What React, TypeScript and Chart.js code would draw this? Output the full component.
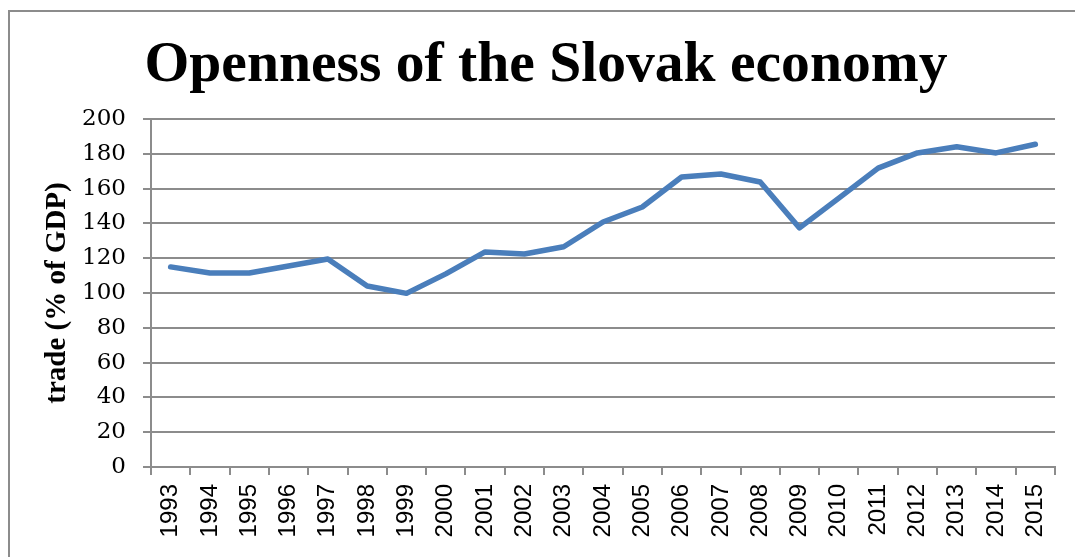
import React, { useEffect, useRef } from "react";
import { Chart, registerables } from "chart.js";

Chart.register(...registerables);

const titleText = "Openness of the Slovak economy";
const yAxisTitle = "trade (% of GDP)";
const years = ["1993","1994","1995","1996","1997","1998","1999","2000","2001","2002","2003","2004","2005","2006","2007","2008","2009","2010","2011","2012","2013","2014","2015"];
const tradeValues = [115, 111.5, 111.5, 115.5, 119.5, 104, 99.8, 111, 123.6, 122.4, 126.6, 140.8, 149.4, 166.7, 168.4, 163.8, 137.4, 154.5, 171.8, 180.5, 184, 180.5, 185.5];
const yMin = 0;
const yMax = 200;
const yStep = 20;

const titlePlugin = {
  id: "customTitle",
  afterDraw(chart: any) {
    const ctx = chart.ctx;
    ctx.save();
    ctx.font = 'bold 100px "Liberation Serif"';
    const w = ctx.measureText(titleText).width;
    const size = (100 * 803) / w;
    ctx.font = `bold ${size}px "Liberation Serif"`;
    ctx.fillStyle = "#000";
    ctx.textAlign = "center";
    ctx.textBaseline = "alphabetic";
    ctx.fillText(titleText, 546, 81);
    ctx.restore();
  },
};

export default function App() {
  const ref = useRef<HTMLCanvasElement>(null);
  useEffect(() => {
    if (!ref.current) return;
    const chart = new Chart(ref.current, {
      type: "line",
      data: {
        labels: years,
        datasets: [
          {
            data: tradeValues,
            borderColor: "#4a7ebb",
            borderWidth: 5.5,
            pointRadius: 0,
            tension: 0,
            borderJoinStyle: "round",
            borderCapStyle: "round",
            fill: false,
          },
        ],
      },
      options: {
        animation: false,
        responsive: false,
        layout: { padding: { top: 119, right: 20, left: 0, bottom: 0 } },
        plugins: { legend: { display: false }, title: { display: false }, tooltip: { enabled: false } },
        scales: {
          x: {
            type: "category",
            offset: true,
            afterFit(scale: any) {
              scale.height = 90;
            },
            grid: {
              display: true,
              offset: true,
              drawOnChartArea: false,
              drawTicks: true,
              tickLength: 8,
              color: "#8c8c8c",
              lineWidth: 2,
            },
            border: { display: true, color: "#8c8c8c", width: 2 },
            ticks: {
              autoSkip: false,
              minRotation: 90,
              maxRotation: 90,
              padding: 9,
              color: "#000",
              font: { family: '"Liberation Sans"', size: 24 },
            },
          },
          y: {
            min: yMin,
            max: yMax,
            afterFit(scale: any) {
              scale.width = 151;
            },
            grid: {
              color: "#8c8c8c",
              lineWidth: 2,
              tickLength: 8,
            },
            border: { display: true, color: "#8c8c8c", width: 2 },
            ticks: {
              stepSize: yStep,
              padding: 17,
              color: "#000",
              font: { family: '"DejaVu Serif"', size: 23 },
            },
            title: {
              display: true,
              text: yAxisTitle,
              color: "#000",
              padding: { top: 40, bottom: 0 },
              font: { family: '"Liberation Serif"', size: 29, weight: "bold" },
            },
          },
        },
      },
      plugins: [titlePlugin],
    });
    return () => chart.destroy();
  }, []);

  return (
    <div style={{ position: "fixed", left: 0, top: 0, width: 1075, height: 557, overflow: "hidden", background: "#fff" }}>
      <div
        style={{
          position: "absolute",
          left: 8,
          top: 10,
          width: 2000,
          height: 2000,
          borderTop: "2px solid #8c8c8c",
          borderLeft: "2px solid #8c8c8c",
        }}
      />
      <canvas
        ref={ref}
        width={1075}
        height={557}
        style={{ position: "absolute", left: 0, top: 0, width: 1075, height: 557 }}
      />
    </div>
  );
}
